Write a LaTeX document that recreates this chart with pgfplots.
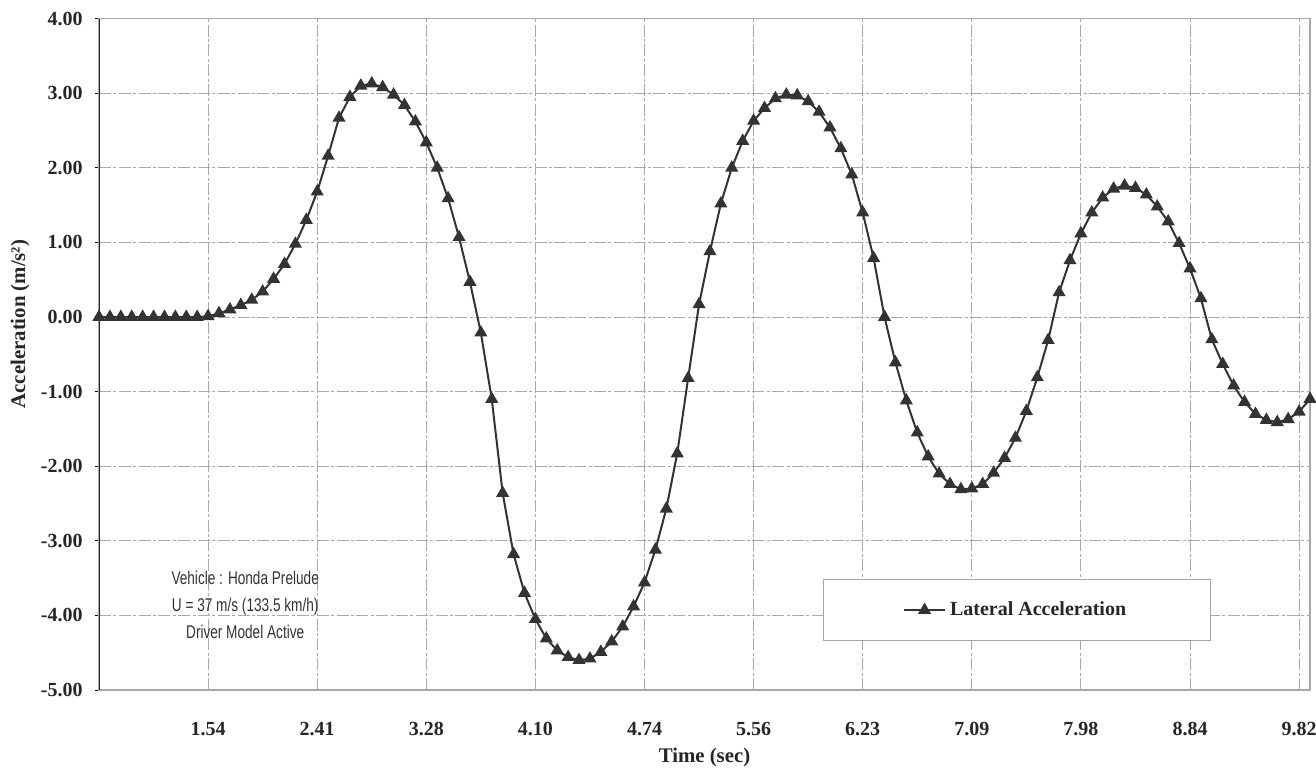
\documentclass[border=0pt]{standalone}
\usepackage{fontspec}
\setmainfont{Liberation Serif}
\newfontfamily\annfont[FakeStretch=0.74]{Liberation Sans}
\usepackage{pgfplots}
\usepackage{pgfplotstable}
\pgfplotsset{compat=1.18}
\definecolor{curve}{HTML}{333333}
\definecolor{gridc}{HTML}{A8A8A8}

\pgfplotstableread{
i a
0 0
1 0
2 0
3 0
4 0
5 0
6 0
7 0
8 0
9 0
10 0.01
11 0.05
12 0.10
13 0.16
14 0.23
15 0.34
16 0.51
17 0.71
18 0.98
19 1.30
20 1.68
21 2.16
22 2.67
23 2.95
24 3.10
25 3.13
26 3.08
27 2.98
28 2.84
29 2.62
30 2.34
31 2.00
32 1.59
33 1.07
34 0.47
35 -0.21
36 -1.10
37 -2.36
38 -3.18
39 -3.70
40 -4.05
41 -4.31
42 -4.47
43 -4.56
44 -4.60
45 -4.58
46 -4.49
47 -4.35
48 -4.15
49 -3.88
50 -3.56
51 -3.12
52 -2.57
53 -1.83
54 -0.82
55 0.17
56 0.88
57 1.52
58 2.00
59 2.36
60 2.63
61 2.80
62 2.93
63 2.98
64 2.97
65 2.89
66 2.75
67 2.54
68 2.26
69 1.91
70 1.40
71 0.79
72 0.00
73 -0.61
74 -1.12
75 -1.55
76 -1.87
77 -2.10
78 -2.24
79 -2.31
80 -2.30
81 -2.24
82 -2.09
83 -1.89
84 -1.62
85 -1.26
86 -0.81
87 -0.31
88 0.33
89 0.76
90 1.12
91 1.40
92 1.60
93 1.72
94 1.76
95 1.73
96 1.64
97 1.48
98 1.28
99 0.99
100 0.65
101 0.25
102 -0.30
103 -0.63
104 -0.92
105 -1.14
106 -1.30
107 -1.38
108 -1.41
109 -1.37
110 -1.27
111 -1.10
}\lateral

\begin{document}
\begin{tikzpicture}
\useasboundingbox (-49.5pt,-39pt) rectangle (608.5pt,345pt);
\begin{axis}[
  at={(0pt,0pt)}, anchor=south west,
  scale only axis, width=605.5pt, height=335.7pt,
  xmin=0, xmax=111, ymin=-5, ymax=4,
  xtick={10,20,...,110},
  xticklabels={1.54,2.41,3.28,4.10,4.74,5.56,6.23,7.09,7.98,8.84,9.82},
  ytick={-5,-4,...,4},
  yticklabels={-5.00,-4.00,-3.00,-2.00,-1.00,0.00,1.00,2.00,3.00,4.00},
  grid=major,
  major grid style={gridc, line width=0.45pt, dash pattern=on 6pt off 1.2pt on 1.5pt off 1.2pt},
  axis line style={gridc, line width=0.6pt},
  xtick style={draw=none},
  ytick style={black, line width=0.5pt},
  tick align=outside,
  major tick length=2pt,
  xtick pos=bottom, ytick pos=left,
  ticklabel style={font=\bfseries\fontsize{10}{12}\selectfont, text=black!85},
  xticklabel style={yshift=-10.5pt},
  yticklabel style={xshift=-2.7pt},
  xlabel={Time (sec)},
  xlabel style={at={(axis description cs:0.5,0)}, anchor=center, yshift=-33.5pt, font=\bfseries\fontsize{10.4}{12}\selectfont, text=black!85},
  ylabel={Acceleration (m/s²)},
  ylabel style={at={(axis description cs:-0.0652,0.545)}, anchor=center, font=\bfseries\fontsize{10.4}{12}\selectfont, text=black!85},
  legend style={at={(0.7577,0.119)}, anchor=center, draw=gray!70, fill=white, inner xsep=40pt, inner ysep=9pt, font=\bfseries\fontsize{10}{12}\selectfont, text=black!85},
  legend image code/.code={\draw[mark repeat=2,mark phase=2,#1] plot coordinates {(0pt,0pt) (10.25pt,0pt) (20.5pt,0pt)};},
]
\draw[black!85, line width=0.8pt] (rel axis cs:0,0) -- (rel axis cs:0,1);
\addplot[color=curve, line width=1pt, mark=triangle*, mark size=2.8pt, mark options={fill=curve, solid}] table[x=i, y=a] {\lateral};
\addlegendentry{Lateral Acceleration}
\node[font=\annfont\fontsize{9.2}{13.5}\selectfont, align=center, text=black!80] at (axis cs:13.4,-3.86) {Vehicle : Honda Prelude\\U = 37 m/s (133.5 km/h)\\Driver Model Active};
\end{axis}
\end{tikzpicture}
\end{document}
